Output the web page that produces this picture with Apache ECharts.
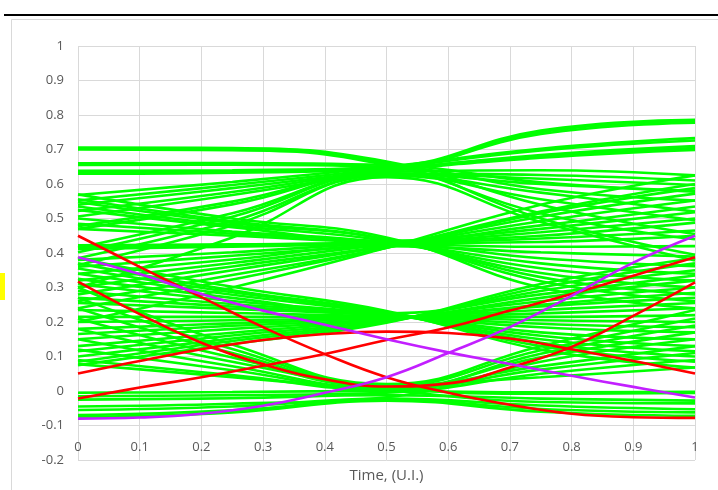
<!DOCTYPE html>
<html><head><meta charset="utf-8">
<script src="https://cdn.jsdelivr.net/npm/echarts@6/dist/echarts.min.js"></script>
<style>html,body{margin:0;padding:0;background:#fff}#c{width:718px;height:490px}</style>
</head><body><div id="c"></div>
<script>
// x positions (U.I.) at which traces were read
const xGreen = [0, 0.25, 0.5, 0.75, 1];
const xFine = [0, 0.1, 0.2, 0.3, 0.4, 0.5, 0.6, 0.7, 0.8, 0.9, 1];
const xTickLabels = ['0','0.1','0.2','0.3','0.4','0.5','0.6','0.7','0.8','0.9','1'];
const yTickLabels = ['-0.2','-0.1','0','0.1','0.2','0.3','0.4','0.5','0.6','0.7','0.8','0.9','1'];
const axisTitle = 'Time, (U.I.)';

// green traces crossing the top level at 0.5 U.I.
const greenTop = [
  [0.706, 0.704, 0.665, 0.540, 0.455],
  [0.703, 0.701, 0.660, 0.500, 0.395],
  [0.700, 0.698, 0.655, 0.515, 0.440],
  [0.660, 0.661, 0.655, 0.605, 0.578],
  [0.655, 0.656, 0.650, 0.585, 0.552],
  [0.638, 0.640, 0.650, 0.755, 0.786],
  [0.634, 0.636, 0.645, 0.750, 0.782],
  [0.630, 0.633, 0.645, 0.745, 0.778],
  [0.568, 0.606, 0.650, 0.702, 0.733],
  [0.552, 0.597, 0.645, 0.697, 0.726],
  [0.540, 0.588, 0.640, 0.684, 0.710],
  [0.522, 0.577, 0.640, 0.680, 0.704],
  [0.506, 0.568, 0.635, 0.676, 0.699],
  [0.478, 0.549, 0.635, 0.640, 0.625],
  [0.470, 0.541, 0.630, 0.626, 0.610],
  [0.415, 0.515, 0.630, 0.615, 0.597],
  [0.402, 0.505, 0.630, 0.600, 0.580],
  [0.385, 0.492, 0.625, 0.575, 0.520],
  [0.365, 0.480, 0.625, 0.556, 0.495],
  [0.300, 0.445, 0.620, 0.490, 0.378]
];
// green traces crossing the upper-middle level
const greenUpperMid = [
  [0.570, 0.500, 0.445, 0.300, 0.240],
  [0.556, 0.492, 0.440, 0.318, 0.260],
  [0.548, 0.487, 0.440, 0.330, 0.280],
  [0.535, 0.480, 0.435, 0.342, 0.300],
  [0.525, 0.475, 0.435, 0.480, 0.535],
  [0.500, 0.462, 0.430, 0.356, 0.320],
  [0.485, 0.456, 0.430, 0.370, 0.340],
  [0.470, 0.450, 0.430, 0.418, 0.420],
  [0.422, 0.425, 0.430, 0.442, 0.465],
  [0.418, 0.421, 0.428, 0.432, 0.450],
  [0.412, 0.418, 0.425, 0.385, 0.362],
  [0.380, 0.402, 0.430, 0.450, 0.488],
  [0.360, 0.392, 0.425, 0.460, 0.500],
  [0.340, 0.381, 0.420, 0.402, 0.390],
  [0.320, 0.371, 0.425, 0.470, 0.518],
  [0.300, 0.361, 0.420, 0.492, 0.552],
  [0.280, 0.350, 0.420, 0.505, 0.572],
  [0.260, 0.336, 0.415, 0.515, 0.588],
  [0.240, 0.323, 0.415, 0.520, 0.600],
  [0.200, 0.300, 0.415, 0.540, 0.625]
];
// green traces crossing the lower-middle level
const greenLowerMid = [
  [0.385, 0.302, 0.232, 0.120, 0.068],
  [0.370, 0.292, 0.228, 0.130, 0.085],
  [0.355, 0.286, 0.228, 0.140, 0.100],
  [0.340, 0.279, 0.224, 0.150, 0.115],
  [0.325, 0.270, 0.225, 0.280, 0.335],
  [0.310, 0.261, 0.222, 0.160, 0.130],
  [0.290, 0.252, 0.222, 0.170, 0.150],
  [0.270, 0.245, 0.218, 0.185, 0.170],
  [0.255, 0.238, 0.220, 0.195, 0.185],
  [0.235, 0.226, 0.217, 0.215, 0.220],
  [0.215, 0.215, 0.215, 0.205, 0.200],
  [0.200, 0.205, 0.212, 0.225, 0.240],
  [0.180, 0.196, 0.212, 0.235, 0.255],
  [0.165, 0.189, 0.208, 0.245, 0.270],
  [0.150, 0.180, 0.207, 0.250, 0.285],
  [0.130, 0.169, 0.207, 0.260, 0.300],
  [0.115, 0.161, 0.203, 0.270, 0.320],
  [0.100, 0.152, 0.203, 0.290, 0.350],
  [0.085, 0.145, 0.200, 0.300, 0.370],
  [0.075, 0.136, 0.198, 0.310, 0.385]
];
// green traces crossing the bottom level
const greenLow = [
  [-0.005, -0.003, 0.000, -0.004, -0.002],
  [-0.015, -0.012, -0.005, 0.050, 0.090],
  [-0.025, -0.021, -0.012, -0.022, -0.028],
  [-0.045, -0.037, -0.018, 0.085, 0.150],
  [-0.055, -0.045, -0.022, -0.042, -0.053],
  [-0.070, -0.056, -0.025, -0.052, -0.062],
  [-0.076, -0.062, -0.028, -0.060, -0.072],
  [0.300, 0.135, 0.020, 0.130, 0.235],
  [0.270, 0.122, 0.018, 0.040, 0.068],
  [0.240, 0.110, 0.015, 0.118, 0.210],
  [0.210, 0.097, 0.012, 0.072, 0.130],
  [0.180, 0.085, 0.010, -0.008, -0.006],
  [0.150, 0.072, 0.008, 0.098, 0.170],
  [0.120, 0.060, 0.005, 0.062, 0.110],
  [0.090, 0.046, 0.003, 0.108, 0.190],
  [0.078, 0.040, 0.002, -0.032, -0.036]
];
// highlighted traces (read at every 0.1 U.I.)
const redTraces = [
  [0.450, 0.360, 0.272, 0.185, 0.107, 0.040, -0.005, -0.040, -0.066, -0.076, -0.078],
  [0.317, 0.223, 0.140, 0.078, 0.034, 0.013, 0.022, 0.068, 0.128, 0.218, 0.315],
  [0.051, 0.087, 0.121, 0.148, 0.165, 0.172, 0.168, 0.152, 0.121, 0.087, 0.051],
  [-0.022, 0.010, 0.040, 0.073, 0.107, 0.148, 0.184, 0.233, 0.281, 0.334, 0.388]
];
const purpleTraces = [
  [0.388, 0.339, 0.281, 0.233, 0.192, 0.150, 0.112, 0.078, 0.044, 0.012, -0.019],
  [-0.080, -0.077, -0.066, -0.043, -0.005, 0.040, 0.110, 0.185, 0.276, 0.372, 0.450]
];

const GREEN = '#00ff00', RED = '#ff0000', PURPLE = '#c21fff';
const series = [];
function addTraces(list, xs, color) {
  list.forEach(t => {
    series.push({
      type: 'line', data: xs.map((x, i) => [x, t[i]]),
      smooth: 0.45, symbol: 'none', silent: true,
      lineStyle: { color: color, width: 2.6 }
    });
  });
}
addTraces(greenTop, xGreen, GREEN);
addTraces(greenUpperMid, xGreen, GREEN);
addTraces(greenLowerMid, xGreen, GREEN);
addTraces(greenLow, xGreen, GREEN);
addTraces(redTraces, xFine, RED);
addTraces(purpleTraces, xFine, PURPLE);

const FONT = '"Open Sans", Lato, sans-serif';
const chart = echarts.init(document.getElementById('c'), null, { renderer: 'canvas' });
chart.setOption({
  animation: false,
  backgroundColor: '#ffffff',
  grid: { left: 78, right: 23, top: 46, bottom: 30, containLabel: false },
  xAxis: {
    type: 'value', min: 0, max: 1, interval: 0.1,
    name: axisTitle, nameLocation: 'middle', nameGap: 8,
    nameTextStyle: { color: '#595959', fontSize: 15, fontFamily: FONT },
    axisLine: { show: false }, axisTick: { show: false },
    axisLabel: { margin: -19, color: '#595959', fontSize: 13, fontFamily: FONT,
      showMinLabel: true, showMaxLabel: true,
      formatter: v => xTickLabels[Math.round(v * 10)] },
    splitLine: { show: true, lineStyle: { color: '#d9d9d9', width: 1 } }
  },
  yAxis: {
    type: 'value', min: -0.2, max: 1, interval: 0.1,
    axisLine: { show: false }, axisTick: { show: false },
    axisLabel: { margin: 14, color: '#595959', fontSize: 13, fontFamily: FONT,
      formatter: v => yTickLabels[Math.round((v + 0.2) * 10)] },
    splitLine: { show: true, lineStyle: { color: '#d9d9d9', width: 1 } }
  },
  graphic: [
    { type: 'rect', shape: { x: 11.5, y: 19.5, width: 720, height: 480 },
      style: { fill: 'none', stroke: '#d9d9d9', lineWidth: 1 }, silent: true, z: -10 },
    { type: 'line', shape: { x1: 4, y1: 15, x2: 718, y2: 15 },
      style: { stroke: '#000000', lineWidth: 2 }, silent: true },
    { type: 'rect', shape: { x: 0, y: 273, width: 5, height: 27 },
      style: { fill: '#ffff00' }, silent: true }
  ],
  series: series
});
</script>
</body></html>
